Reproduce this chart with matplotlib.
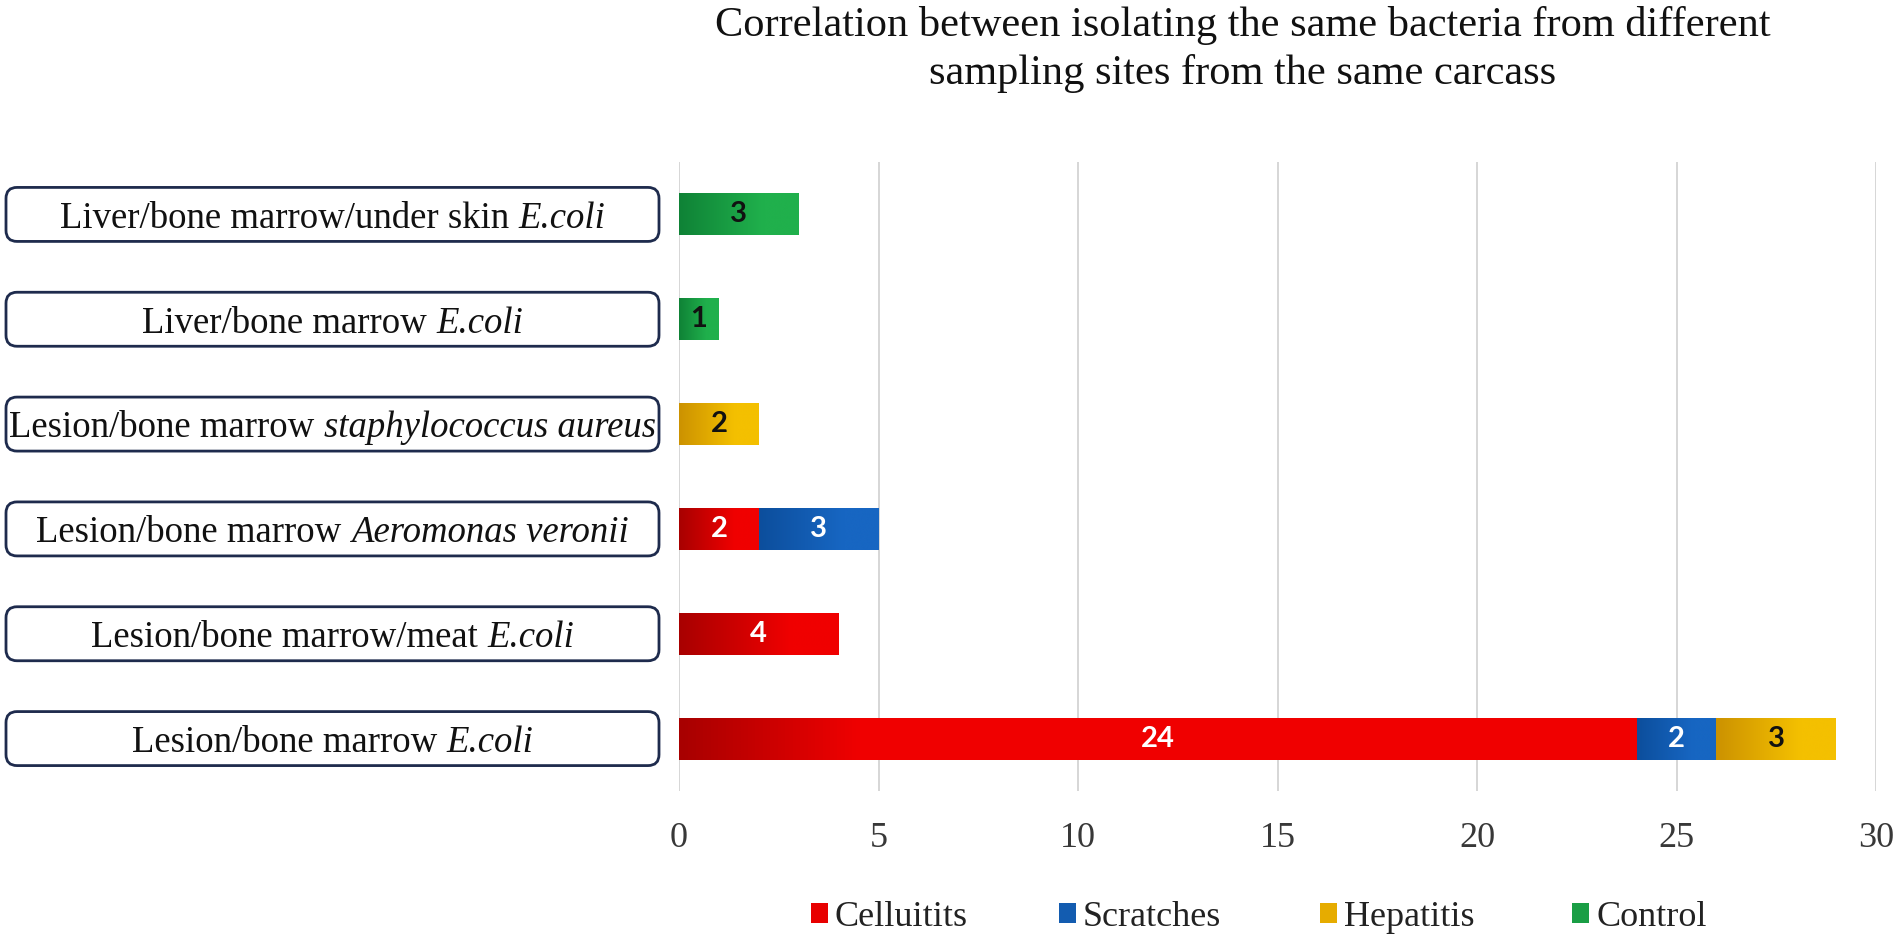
import numpy as np
import matplotlib
matplotlib.use("Agg")
import matplotlib.pyplot as plt
from matplotlib.patches import FancyBboxPatch, Rectangle
from matplotlib.transforms import IdentityTransform
from matplotlib.colors import LinearSegmentedColormap

# ---------------- data ----------------
label_plain = ["Lesion/bone marrow", "Lesion/bone marrow/meat", "Lesion/bone marrow",
               "Lesion/bone marrow", "Liver/bone marrow", "Liver/bone marrow/under skin"]
label_italic = ["E.coli", "E.coli", "Aeromonas veronii",
                "staphylococcus aureus", "E.coli", "E.coli"]
series_names = ["Celluitits", "Scratches", "Hepatitis", "Control"]
celluitits = [24, 4, 2, 0, 0, 0]
scratches = [2, 0, 3, 0, 0, 0]
hepatitis = [3, 0, 0, 2, 0, 0]
control = [0, 0, 0, 0, 1, 3]
title_lines = ["Correlation between isolating the same bacteria from different",
               "sampling sites from the same carcass"]
xticks = [0, 5, 10, 15, 20, 25, 30]

series_values = [celluitits, scratches, hepatitis, control]
grad_colors = [("#A80000", "#F00000"), ("#0C4E9C", "#1766C2"),
               ("#CC9200", "#F4C000"), ("#0F8236", "#20B04C")]
base_colors = ["#E80000", "#135CB0", "#E6AC00", "#1A9E45"]
text_colors = ["white", "white", "#111111", "#111111"]

W, H = 1902, 942
fig = plt.figure(figsize=(W / 100, H / 100), dpi=100)
fig.patch.set_facecolor("white")
ax = fig.add_axes([679 / W, 1 - 791 / H, (1876 - 679) / W, (791 - 162) / H])

ypos = np.arange(len(label_plain))
left = np.zeros(len(ypos))
bar_h = 0.40
for vals, col, gc, tc in zip(series_values, base_colors, grad_colors, text_colors):
    vals = np.array(vals, dtype=float)
    bars = ax.barh(ypos, vals, left=left, height=bar_h, color=col, zorder=2)
    for b, v in zip(bars, vals):
        if v <= 0:
            continue
        x0, y0, w, h = b.get_x(), b.get_y(), b.get_width(), b.get_height()
        # darker on the left part, bright on the rest (like the Excel gradient fill)
        frac = min(0.7, 4.5 / w)
        cmap = LinearSegmentedColormap.from_list(
            "g", [(0, gc[0]), (frac, gc[1]), (1, gc[1])])
        grad = np.linspace(0, 1, 256).reshape(1, -1)
        ax.imshow(grad, extent=[x0, x0 + w, y0, y0 + h], cmap=cmap,
                  aspect="auto", zorder=2.5, interpolation="bicubic")
        ax.text(x0 + w / 2, y0 + h / 2, f"{int(v)}", ha="center", va="center",
                color=tc, fontsize=21, fontweight="bold", family="Lato", zorder=4)
    left += vals

ax.set_xlim(0, 30)
ax.set_ylim(-0.5, len(ypos) - 0.5)
ax.set_xticks(xticks)
ax.set_yticks([])
ax.grid(axis="x", color="#D6D6D6", linewidth=1.4, zorder=0)
ax.set_axisbelow(True)
for s in ax.spines.values():
    s.set_visible(False)
ax.tick_params(axis="x", length=0, pad=22, labelsize=26, labelcolor="#383838")
for lab in ax.get_xticklabels():
    lab.set_family("Liberation Serif")

# category label boxes with mixed upright / italic text
ident = IdentityTransform()
renderer = fig.canvas.get_renderer()
lab_fs = 26.5
lab_font = "Liberation Serif"


def text_width(s, style="normal"):
    t = fig.text(0, 0, s, fontsize=lab_fs, family=lab_font, style=style)
    w = t.get_window_extent(renderer).width
    t.remove()
    return w


space_w = text_width("a a") - text_width("aa")
for i, (p, it) in enumerate(zip(label_plain, label_italic)):
    yc = ax.transData.transform((0, ypos[i]))[1]
    box = FancyBboxPatch((6, yc - 27), 653, 54,
                         boxstyle="round,pad=0,rounding_size=11",
                         transform=ident, facecolor="white",
                         edgecolor="#1E2B4D", linewidth=2.0)
    fig.add_artist(box)
    wp = text_width(p)
    wi = text_width(it, "italic")
    x_start = 332.5 - (wp + space_w + wi) / 2
    fig.text(x_start, yc, p, transform=ident, ha="left", va="center_baseline",
             fontsize=lab_fs, family=lab_font, color="#111111")
    fig.text(x_start + wp + space_w, yc, it, transform=ident, ha="left",
             va="center_baseline", fontsize=lab_fs, family=lab_font,
             style="italic", color="#111111")

# title
fig.text(1243 / W, 1 - 36 / H, title_lines[0], ha="center", va="baseline",
         fontsize=30.5, family="Liberation Serif", color="#111111")
fig.text(1243 / W, 1 - 84 / H, title_lines[1], ha="center", va="baseline",
         fontsize=30.5, family="Liberation Serif", color="#111111")

# legend
sq_x = [811, 1059, 1320, 1572]
for name, col, sx in zip(series_names, base_colors, sq_x):
    fig.add_artist(Rectangle((sx, H - 923), 17, 20, transform=ident,
                             facecolor=col, edgecolor="none"))
    fig.text(sx + 24, H - 913, name, transform=ident, ha="left",
             va="center_baseline", fontsize=26, family="Liberation Serif",
             color="#222222")

fig.savefig("out.png", dpi=100, facecolor="white")
